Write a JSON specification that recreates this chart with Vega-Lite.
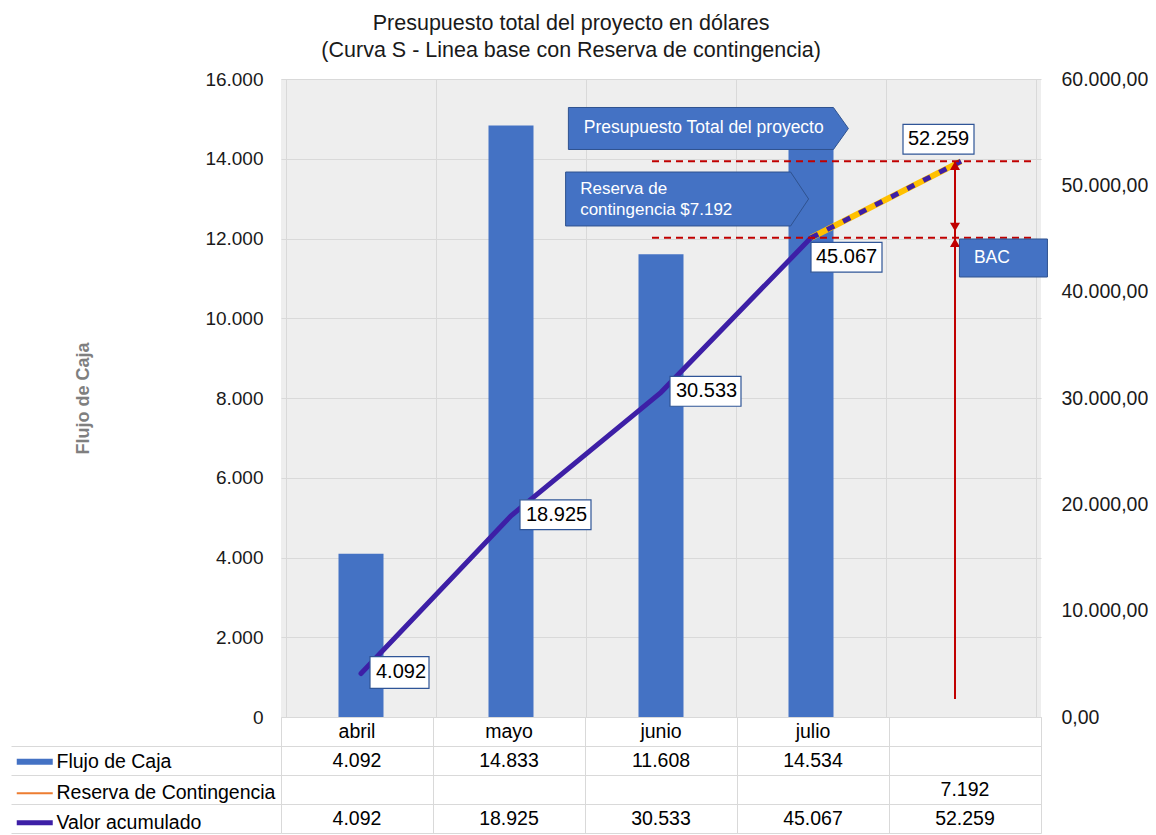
{
  "$schema": "https://vega.github.io/schema/vega-lite/v6.json",
  "background": "white",
  "padding": {"left": 10, "top": 12, "right": 0, "bottom": 0},
  "config": {
    "font": "Liberation Sans",
    "locale": {"number": {"decimal": ",", "thousands": ".", "grouping": [3], "currency": ["$", ""]}},
    "view": {"stroke": null},
    "axis": {
      "gridColor": "#d9d9d9",
      "domainColor": "#d9d9d9",
      "tickColor": "#d9d9d9",
      "labelFont": "Liberation Sans",
      "labelColor": "#1a1a1a",
      "labelFontSize": 19,
      "titleFont": "Liberation Sans"
    },
    "legend": {"labelFont": "Liberation Sans"},
    "title": {"font": "Liberation Sans"}
  },
  "title": {
    "text": ["Presupuesto total del proyecto en dólares", "(Curva S - Linea base con Reserva de contingencia)"],
    "fontSize": 21.5,
    "fontWeight": "normal",
    "color": "#1a1a1a",
    "lineHeight": 27,
    "anchor": "middle",
    "frame": "bounds",
    "dx": -8,
    "offset": 8
  },
  "datasets": {
    "meses": [
      {"i": 0, "mes": "abril", "Flujo de Caja": 4092, "Valor acumulado": 4092},
      {"i": 1, "mes": "mayo", "Flujo de Caja": 14833, "Valor acumulado": 18925},
      {"i": 2, "mes": "junio", "Flujo de Caja": 11608, "Valor acumulado": 30533},
      {"i": 3, "mes": "julio", "Flujo de Caja": 14534, "Valor acumulado": 45067},
      {"i": 4, "mes": "total", "Reserva de Contingencia": 7192, "Valor acumulado": 52259}
    ]
  },
  "bounds": "flush",
  "spacing": 0,
  "vconcat": [
    {
      "width": 760,
      "height": 638,
      "view": {"fill": "#eeeeee", "stroke": null},
      "data": {"name": "meses"},
      "encoding": {
        "x": {
          "field": "i",
          "type": "quantitative",
          "scale": {"domain": [-0.5, 4.5], "nice": false, "zero": false},
          "axis": {
            "values": [-0.5, 0.5, 1.5, 2.5, 3.5, 4.5],
            "grid": true,
            "labels": false,
            "ticks": false,
            "domain": true,
            "title": null
          }
        }
      },
      "layer": [
        {
          "transform": [{"filter": "isValid(datum['Flujo de Caja'])"}],
          "mark": {"type": "bar", "width": 45, "color": "#4472C4"},
          "encoding": {
            "y": {
              "field": "Flujo de Caja",
              "type": "quantitative",
              "scale": {"domain": [0, 16000], "nice": false},
              "axis": {
                "orient": "left",
                "values": [0, 2000, 4000, 6000, 8000, 10000, 12000, 14000, 16000],
                "format": ",.0f",
                "grid": true,
                "ticks": false,
                "domain": false,
                "labelPadding": 18,
                "title": "Flujo de Caja",
                "titleFontSize": 18,
                "titleFontWeight": "bold",
                "titleColor": "#7f7f7f",
                "titlePadding": 112
              }
            }
          }
        },
        {
          "layer": [
            {
              "transform": [{"filter": "datum.i <= 3"}],
              "mark": {"type": "line", "color": "#3D1FA6", "strokeWidth": 5, "strokeCap": "round"},
              "encoding": {
                "y": {
                  "field": "Valor acumulado",
                  "type": "quantitative",
                  "scale": {"domain": [0, 60000], "nice": false},
                  "axis": {
                    "orient": "right",
                    "values": [0, 10000, 20000, 30000, 40000, 50000, 60000],
                    "format": ",.2f",
                    "grid": false,
                    "ticks": false,
                    "domain": false,
                    "labelPadding": 20,
                    "labelFontSize": 19.5,
                    "title": null
                  }
                }
              }
            },
            {
              "transform": [{"filter": "datum.i >= 3"}],
              "mark": {"type": "line", "color": "#FFC000", "strokeWidth": 6},
              "encoding": {"y": {"field": "Valor acumulado", "type": "quantitative"}}
            },
            {
              "transform": [{"filter": "datum.i >= 3"}],
              "mark": {"type": "line", "color": "#3D1FA6", "strokeWidth": 5, "strokeDash": [8, 10]},
              "encoding": {"y": {"field": "Valor acumulado", "type": "quantitative"}}
            },
            {
              "transform": [{"filter": "datum.i >= 3"}],
              "mark": {"type": "rule", "color": "#C00000", "strokeWidth": 2, "strokeDash": [7, 5]},
              "encoding": {
                "x": {"datum": 1.94, "type": "quantitative"},
                "x2": {"datum": 4.5},
                "y": {"field": "Valor acumulado", "type": "quantitative"}
              }
            },
            {
              "transform": [{"filter": "datum.i == 4"}],
              "mark": {"type": "rule", "color": "#C00000", "strokeWidth": 2},
              "encoding": {
                "x": {"datum": 3.96, "type": "quantitative"},
                "y": {"field": "Valor acumulado", "type": "quantitative"},
                "y2": {"datum": 45067}
              }
            },
            {
              "transform": [{"filter": "datum.i == 4"}],
              "mark": {"type": "rule", "color": "#C00000", "strokeWidth": 2},
              "encoding": {
                "x": {"datum": 3.96, "type": "quantitative"},
                "y": {"datum": 1693, "type": "quantitative"},
                "y2": {"datum": 45067}
              }
            },
            {
              "transform": [{"filter": "datum.i == 4"}],
              "mark": {"type": "point", "shape": "triangle-up", "filled": true, "color": "#C00000", "opacity": 1, "size": 100, "yOffset": 4.3},
              "encoding": {
                "x": {"datum": 3.96, "type": "quantitative"},
                "y": {"field": "Valor acumulado", "type": "quantitative"}
              }
            },
            {
              "transform": [{"filter": "datum.i == 4"}],
              "mark": {"type": "point", "shape": "triangle-down", "filled": true, "color": "#C00000", "opacity": 1, "size": 100, "yOffset": -10.8},
              "encoding": {
                "x": {"datum": 3.96, "type": "quantitative"},
                "y": {"datum": 45067, "type": "quantitative"}
              }
            },
            {
              "transform": [{"filter": "datum.i == 4"}],
              "mark": {"type": "point", "shape": "triangle-up", "filled": true, "color": "#C00000", "opacity": 1, "size": 100, "yOffset": 4.8},
              "encoding": {
                "x": {"datum": 3.96, "type": "quantitative"},
                "y": {"datum": 45067, "type": "quantitative"}
              }
            },
            {
              "transform": [{"filter": "datum.i <= 2"}],
              "mark": {"type": "point", "filled": true, "fill": "white", "stroke": "#2F5597", "strokeWidth": 1.2, "opacity": 1, "xOffset": 9, "yOffset": -1},
              "encoding": {
                "y": {"field": "Valor acumulado", "type": "quantitative"},
                "shape": {"condition": {"test": "datum['Valor acumulado'] < 10000", "value": "M0,-0.54H2V0.54H0Z"}, "value": "M0,-0.42H2V0.42H0Z"},
                "size": {"condition": {"test": "datum['Valor acumulado'] < 10000", "value": 3481}, "value": 5041}
              }
            },
            {
              "transform": [{"filter": "datum.i <= 2"}],
              "mark": {"type": "text", "align": "left", "baseline": "middle", "dx": 15, "dy": -1, "fontSize": 20, "color": "#000000"},
              "encoding": {
                "y": {"field": "Valor acumulado", "type": "quantitative"},
                "text": {"field": "Valor acumulado", "type": "quantitative", "format": ",.0f"}
              }
            },
            {
              "transform": [{"filter": "datum.i == 3"}],
              "mark": {"type": "point", "shape": "M0,-0.42H2V0.42H0Z", "size": 5041, "filled": true, "fill": "white", "stroke": "#2F5597", "strokeWidth": 1.2, "opacity": 1, "xOffset": 0, "yOffset": 19.5},
              "encoding": {"y": {"field": "Valor acumulado", "type": "quantitative"}}
            },
            {
              "transform": [{"filter": "datum.i == 3"}],
              "mark": {"type": "text", "align": "left", "baseline": "middle", "dx": 5, "dy": 19.5, "fontSize": 20, "color": "#000000"},
              "encoding": {
                "y": {"field": "Valor acumulado", "type": "quantitative"},
                "text": {"field": "Valor acumulado", "type": "quantitative", "format": ",.0f"}
              }
            },
            {
              "transform": [{"filter": "datum.i == 4"}],
              "mark": {"type": "point", "shape": "M0,-0.42H2V0.42H0Z", "size": 5041, "filled": true, "fill": "white", "stroke": "#2F5597", "strokeWidth": 1.2, "opacity": 1, "xOffset": -58, "yOffset": -22},
              "encoding": {"y": {"field": "Valor acumulado", "type": "quantitative"}}
            },
            {
              "transform": [{"filter": "datum.i == 4"}],
              "mark": {"type": "text", "align": "left", "baseline": "middle", "dx": -53, "dy": -22, "fontSize": 20, "color": "#000000"},
              "encoding": {
                "y": {"field": "Valor acumulado", "type": "quantitative"},
                "text": {"field": "Valor acumulado", "type": "quantitative", "format": ",.0f"}
              }
            },
            {
              "transform": [{"filter": "datum.i == 4"}],
              "mark": {"type": "point", "shape": "M-1,-0.15L0.893,-0.15L1,0L0.893,0.15L-1,0.15Z", "size": 78400, "filled": true, "fill": "#4472C4", "stroke": "#2F528F", "strokeWidth": 1, "opacity": 1},
              "encoding": {
                "x": {"datum": 2.316, "type": "quantitative"},
                "y": {"datum": 55345, "type": "quantitative"}
              }
            },
            {
              "transform": [{"filter": "datum.i == 4"}],
              "mark": {"type": "text", "align": "left", "baseline": "middle", "fontSize": 17.5, "color": "white"},
              "encoding": {
                "x": {"datum": 1.485, "type": "quantitative"},
                "y": {"datum": 55345, "type": "quantitative"},
                "text": {"value": "Presupuesto Total del proyecto"}
              }
            },
            {
              "transform": [{"filter": "datum.i == 4"}],
              "mark": {"type": "point", "shape": "M-1,-0.222L0.852,-0.222L1,0L0.852,0.222L-1,0.222Z", "size": 59049, "filled": true, "fill": "#4472C4", "stroke": "#2F528F", "strokeWidth": 1, "opacity": 1},
              "encoding": {
                "x": {"datum": 2.174, "type": "quantitative"},
                "y": {"datum": 48715, "type": "quantitative"}
              }
            },
            {
              "transform": [{"filter": "datum.i == 4"}],
              "mark": {"type": "text", "align": "left", "baseline": "middle", "fontSize": 17, "lineHeight": 21, "color": "white"},
              "encoding": {
                "x": {"datum": 1.461, "type": "quantitative"},
                "y": {"datum": 49655, "type": "quantitative"},
                "text": {"value": ["Reserva de", "contingencia $7.192"]}
              }
            },
            {
              "transform": [{"filter": "datum.i == 4"}],
              "mark": {"type": "point", "shape": "M-1,-0.432H1V0.432H-1Z", "size": 7744, "filled": true, "fill": "#4472C4", "stroke": "#2F528F", "strokeWidth": 1, "opacity": 1},
              "encoding": {
                "x": {"datum": 4.283, "type": "quantitative"},
                "y": {"datum": 43166, "type": "quantitative"}
              }
            },
            {
              "transform": [{"filter": "datum.i == 4"}],
              "mark": {"type": "text", "align": "left", "baseline": "middle", "fontSize": 17.5, "color": "white"},
              "encoding": {
                "x": {"datum": 4.086, "type": "quantitative"},
                "y": {"datum": 43166, "type": "quantitative"},
                "text": {"value": "BAC"}
              }
            }
          ]
        }
      ],
      "resolve": {"scale": {"y": "independent"}}
    },
    {
      "width": 760,
      "height": 116,
      "data": {"name": "meses"},
      "encoding": {
        "x": {
          "field": "mes",
          "type": "nominal",
          "scale": {"domain": ["abril", "mayo", "junio", "julio", "total"], "paddingInner": 0, "paddingOuter": 0},
          "axis": {"grid": true, "tickBand": "extent", "labels": false, "ticks": false, "domain": false, "title": null}
        }
      },
      "layer": [
        {
          "transform": [{"filter": "datum.i <= 3"}],
          "mark": {"type": "text", "fontSize": 19.5, "color": "#000000", "baseline": "middle"},
          "encoding": {
            "y": {
              "datum": "mes",
              "type": "nominal",
              "scale": {"domain": ["mes", "Flujo de Caja", "Reserva de Contingencia", "Valor acumulado"], "paddingInner": 0, "paddingOuter": 0},
              "axis": {
                "values": ["Flujo de Caja", "Reserva de Contingencia", "Valor acumulado"],
                "grid": true,
                "tickBand": "extent",
                "ticks": true,
                "tickSize": 270,
                "labels": false,
                "domain": false,
                "title": null
              }
            },
            "text": {"field": "mes", "type": "nominal"}
          }
        },
        {
          "transform": [
            {"fold": ["Flujo de Caja", "Reserva de Contingencia", "Valor acumulado"], "as": ["serie", "valor"]},
            {"filter": "isValid(datum.valor)"}
          ],
          "mark": {"type": "text", "fontSize": 19.5, "color": "#000000", "baseline": "middle"},
          "encoding": {
            "y": {"field": "serie", "type": "nominal"},
            "text": {"field": "valor", "type": "quantitative", "format": ",.0f"}
          }
        },
        {
          "transform": [
            {"fold": ["Flujo de Caja", "Reserva de Contingencia", "Valor acumulado"], "as": ["serie", "valor"]},
            {"filter": "isValid(datum.valor)"}
          ],
          "mark": {"type": "point", "filled": false, "opacity": 0},
          "encoding": {
            "y": {"field": "serie", "type": "nominal"},
            "color": {
              "field": "serie",
              "type": "nominal",
              "scale": {"domain": ["Flujo de Caja", "Reserva de Contingencia", "Valor acumulado"], "range": ["#4472C4", "#ED7D31", "#3D1FA6"]},
              "legend": {
                "orient": "none",
                "legendX": -256,
                "legendY": 673,
                "title": null,
                "symbolType": "M-3.6,0H3.6",
                "symbolSize": 100,
                "labelFontSize": 19.5,
                "labelColor": "#000000",
                "labelOffset": 12,
                "labelLimit": 320,
                "rowPadding": 8.5,
                "padding": 0
              }
            },
            "strokeWidth": {
              "field": "serie",
              "type": "nominal",
              "scale": {"type": "ordinal", "domain": ["Flujo de Caja", "Reserva de Contingencia", "Valor acumulado"], "range": [6, 2, 5]},
              "legend": {
                "orient": "none",
                "legendX": -256,
                "legendY": 673,
                "title": null,
                "symbolType": "M-3.6,0H3.6",
                "symbolSize": 100,
                "labelFontSize": 19.5,
                "labelColor": "#000000",
                "labelOffset": 12,
                "labelLimit": 320,
                "rowPadding": 8.5,
                "padding": 0
              }
            }
          }
        }
      ]
    }
  ]
}
